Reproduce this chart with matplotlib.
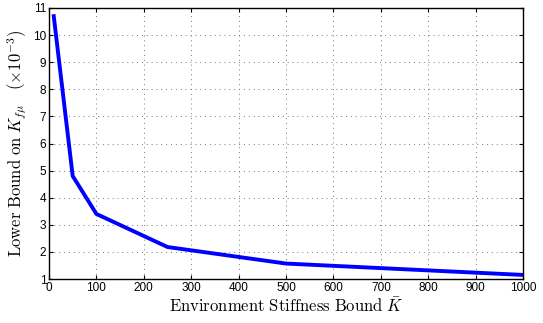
import numpy as np
import matplotlib.pyplot as plt

plt.rcParams['mathtext.fontset'] = 'cm'
plt.rcParams['font.family'] = ['Liberation Sans', 'DejaVu Sans']

stiffness = [10, 50, 100, 250, 500, 1000]
lower_bound = [10.7, 4.8, 3.4, 2.18, 1.57, 1.15]

fig = plt.figure(figsize=(5.43, 3.23), dpi=100)
ax = fig.add_axes([49/543, 1 - 279/323, (523-49)/543, (279-8)/323])

ax.plot(stiffness, lower_bound, color='#0000ff', linewidth=2.8, solid_joinstyle='miter')

ax.set_xlim(0, 1000)
ax.set_ylim(1, 11)
ax.set_xticks(np.arange(0, 1001, 100))
ax.set_yticks(np.arange(1, 12, 1))
ax.tick_params(direction='in', top=True, right=True, labelsize=8.5, length=3, width=0.8, pad=2)
for s in ax.spines.values():
    s.set_linewidth(1.0)
ax.grid(True, linestyle=(0, (1, 4)), color='#777777', linewidth=0.7)

ax.set_xlabel(r'$\mathrm{Environment\ Stiffness\ Bound\ }\bar{K}$', fontsize=12, labelpad=2)
ax.set_ylabel(r'$\mathrm{Lower\ Bound\ on\ }K_{f\mu}\ \ \ (\times 10^{-3})$', fontsize=12, labelpad=3)

fig.savefig('out.png', dpi=100)
